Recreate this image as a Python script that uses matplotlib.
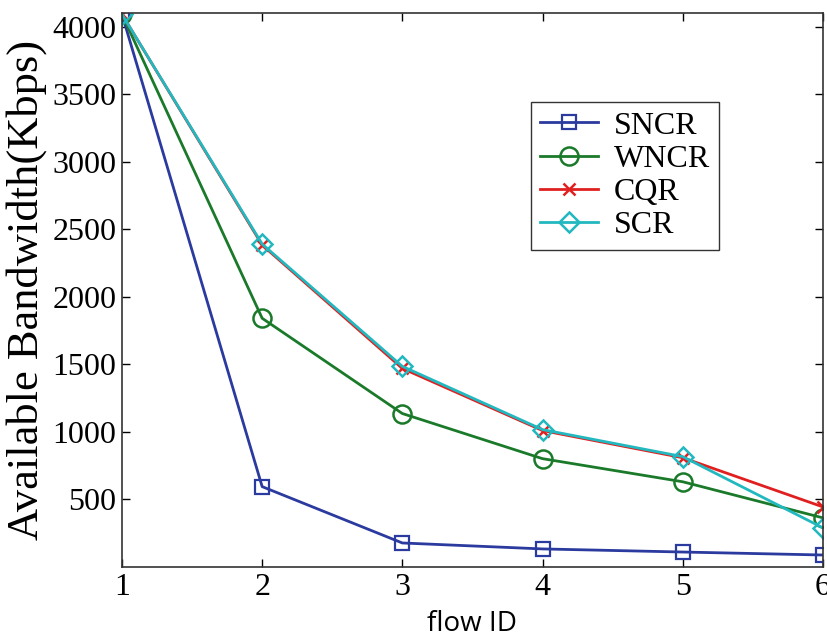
import matplotlib
matplotlib.use("Agg")
import matplotlib.pyplot as plt

# data
flow_id = [1, 2, 3, 4, 5, 6]
sncr = [4090, 595, 178, 134, 111, 89]
wncr = [4090, 1841, 1136, 802, 631, 364]
cqr = [4090, 2383, 1470, 1010, 809, 445]
scr = [4090, 2390, 1485, 1017, 817, 290]
yticks = [500, 1000, 1500, 2000, 2500, 3000, 3500, 4000]

plt.rcParams['font.family'] = ['Liberation Serif', 'DejaVu Serif']

fig = plt.figure(figsize=(8.27, 6.41), dpi=100, facecolor='white')
ax = fig.add_axes([0.1475, 0.1154, 0.8475, 0.8643])

ax.plot(flow_id, sncr, color='#2b3a9e', marker='s', markersize=10, markerfacecolor='none',
        markeredgewidth=1.6, linewidth=2, label='SNCR')
ax.plot(flow_id, wncr, color='#1a7a2a', marker='o', markersize=13, markerfacecolor='none',
        markeredgewidth=1.8, linewidth=2, label='WNCR')
ax.plot(flow_id, cqr, color='#e02020', marker='x', markersize=9,
        markeredgewidth=1.8, linewidth=2, label='CQR')
ax.plot(flow_id, scr, color='#22b8c0', marker='D', markersize=10, markerfacecolor='none',
        markeredgewidth=1.8, linewidth=2, label='SCR')

ax.set_xlim(1, 6)
ax.set_ylim(0, 4100)
ax.set_xticks(flow_id)
ax.set_yticks(yticks)
ax.tick_params(direction='in', length=6, width=1, top=True, right=True,
               labelsize=23, pad=4)
for s in ax.spines.values():
    s.set_linewidth(1.2)
    s.set_color('#333333')

ax.set_ylabel('Available Bandwidth(Kbps)', fontsize=32, labelpad=4)
ax.set_xlabel('flow ID', family='Open Sans', fontsize=20, labelpad=6)

leg = ax.legend(loc='upper left', bbox_to_anchor=(0.583, 0.84), frameon=True, fancybox=False,
                prop={'size': 23}, handlelength=1.8,
                borderpad=0.3, labelspacing=0.12, handletextpad=0.5, borderaxespad=0)
leg.get_frame().set_edgecolor('black')
leg.get_frame().set_linewidth(1)

fig.savefig('out.png', dpi=100, facecolor='white')
